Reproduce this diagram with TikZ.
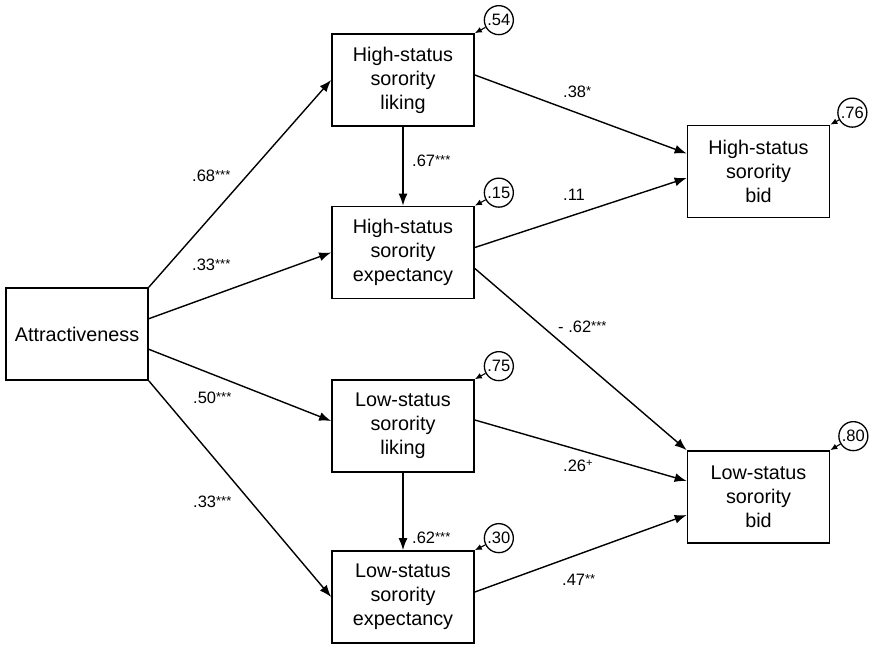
\documentclass[tikz,border=0pt]{standalone}
\usepackage{fontspec}
\setmainfont{Liberation Sans}
\usetikzlibrary{arrows.meta}
\newcommand{\sigstars}[1]{\raisebox{1.5pt}{\fontsize{13}{13}\selectfont #1}}
\begin{document}
\begin{tikzpicture}[x=1pt,y=-1pt,
  box/.style={draw,line width=1.7pt,minimum width=142pt,minimum height=92pt,align=center,inner sep=0pt,font=\fontsize{19.8}{24}\selectfont},
  resid/.style={draw,circle,line width=1.3pt,minimum size=29pt,inner sep=0pt,font=\fontsize{16.5}{18}\selectfont},
  causal/.style={line width=1.4pt,-{Latex[length=12pt,width=9pt]}},
  residarrow/.style={line width=1.1pt,-{Latex[length=7pt,width=6pt]}},
  coef/.style={anchor=base west,inner sep=0pt,font=\fontsize{16.5}{18}\selectfont}]
\useasboundingbox (0,0) rectangle (872,645);
% variables
\node[box] (attr) at (77,334) {Attractiveness};
\node[box] (hsl) at (403,80) {High-status\\sorority\\liking};
\node[box] (hse) at (403,252.5) {High-status\\sorority\\expectancy};
\node[box] (lsl) at (403,426) {Low-status\\sorority\\liking};
\node[box] (lse) at (403,597) {Low-status\\sorority\\expectancy};
\node[box] (hsb) at (758.5,171.5) {High-status\\sorority\\bid};
\node[box] (lsb) at (758.5,497) {Low-status\\sorority\\bid};
% residuals
\node[resid] (rhsl) at ([xshift=24pt,yshift=13pt]hsl.north east) {.54};
\node[resid] (rhse) at ([xshift=24pt,yshift=13pt]hse.north east) {.15};
\node[resid] (rlsl) at ([xshift=24pt,yshift=13pt]lsl.north east) {.75};
\node[resid] (rlse) at ([xshift=24pt,yshift=12pt]lse.north east) {.30};
\node[resid] (rhsb) at ([xshift=22pt,yshift=12pt]hsb.north east) {.76};
\node[resid] (rlsb) at ([xshift=23pt,yshift=14pt]lsb.north east) {.80};
\foreach \r/\b in {rhsl/hsl,rhse/hse,rlsl/lsl,rlse/lse,rhsb/hsb,rlsb/lsb}
  \draw[residarrow] (\r) -- (\b.north east);
% paths
\draw[causal] (attr.north east) -- (hsl.west);
\draw[causal] ([yshift=15.3pt]attr.east) -- (hse.west);
\draw[causal] ([yshift=-15.3pt]attr.east) -- ([yshift=5pt]lsl.west);
\draw[causal] (attr.south east) -- (lse.west);
\draw[causal] (hsl.south) -- (hse.north);
\draw[causal] (lsl.south) -- (lse.north);
\draw[causal] ([yshift=5pt]hsl.east) -- ([yshift=18pt]hsb.west);
\draw[causal] ([yshift=5pt]hse.east) -- ([yshift=-6.5pt]hsb.west);
\draw[causal] ([yshift=-16pt]hse.east) -- (lsb.north west);
\draw[causal] ([yshift=6pt]lsl.east) -- ([yshift=16pt]lsb.west);
\draw[causal] ([yshift=5pt]lse.east) -- ([yshift=-18pt]lsb.west);
% coefficients
\node[coef] at (192,181) {.68\sigstars{***}};
\node[coef] at (192,270) {.33\sigstars{***}};
\node[coef] at (193,403) {.50\sigstars{***}};
\node[coef] at (193,507) {.33\sigstars{***}};
\node[coef] at (412,166) {.67\sigstars{***}};
\node[coef] at (412,543) {.62\sigstars{***}};
\node[coef] at (563,97) {.38\sigstars{*}};
\node[coef] at (563,200) {.11};
\node[coef] at (558,332) {- .62\sigstars{***}};
\node[coef] at (563,471) {.26\raisebox{5pt}{\fontsize{11}{11}\selectfont +}};
\node[coef] at (562,585) {.47\sigstars{**}};
\end{tikzpicture}
\end{document}
